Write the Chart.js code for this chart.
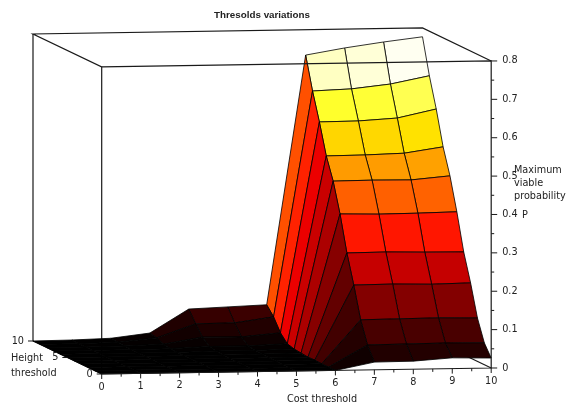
<!DOCTYPE html>
<html>
<head>
<meta charset="utf-8">
<title>Thresolds variations</title>
<script src="https://cdn.jsdelivr.net/npm/chart.js@4"></script>
<style>
  html, body { margin: 0; padding: 0; background: #fff; }
  canvas { display: block; }
</style>
</head>
<body>
<canvas id="surface-chart" width="568" height="408"></canvas>
<script>
// values, each list runs from height 0 up to height 10
const costThresholds = [0, 1, 2, 3, 4, 5, 6, 7, 8, 9, 10];
const heightThresholds = [0, 1, 2, 3, 4, 5, 6, 7, 8, 9, 10];
const probAtCost0 = [0, 0, 0, 0, 0, 0, 0, 0, 0, 0, 0];
const probAtCost1 = [0, 0, 0, 0, 0, 0, 0, 0, 0, 0, 0.001];
const probAtCost2 = [0, 0, 0, 0, 0, 0, 0, 0, 0.001, 0.002, 0.004];
const probAtCost3 = [0, 0, 0, 0, 0, 0, 0, 0.001, 0.004, 0.012, 0.016];
const probAtCost4 = [0, 0, 0, 0, 0, 0, 0.002, 0.005, 0.021, 0.047, 0.077];
const probAtCost5 = [0, 0, 0, 0, 0, 0.001, 0.002, 0.005, 0.02, 0.048, 0.081];
const probAtCost6 = [0, 0, 0, 0.001, 0, 0.002, 0.004, 0.009, 0.029, 0.062, 0.085];
const probAtCost7 = [0.02, 0.056, 0.113, 0.195, 0.27, 0.363, 0.44, 0.497, 0.577, 0.649, 0.734];
const probAtCost8 = [0.021, 0.057, 0.114, 0.196, 0.271, 0.361, 0.441, 0.498, 0.578, 0.653, 0.751];
const probAtCost9 = [0.028, 0.058, 0.115, 0.194, 0.269, 0.362, 0.44, 0.501, 0.584, 0.664, 0.765];
const probAtCost10 = [0.026, 0.057, 0.113, 0.196, 0.268, 0.364, 0.449, 0.516, 0.606, 0.684, 0.777];
const surface = [probAtCost0, probAtCost1, probAtCost2, probAtCost3, probAtCost4, probAtCost5,
  probAtCost6, probAtCost7, probAtCost8, probAtCost9, probAtCost10];

const costTicks = [0, 1, 2, 3, 4, 5, 6, 7, 8, 9, 10];
const heightTicks = [0, 5, 10];
const probTicks = [0, 0.1, 0.2, 0.3, 0.4, 0.5, 0.6, 0.7, 0.8];

const FONT = '"DejaVu Sans", sans-serif';
const TITLE_BAND = 30; // height the title block takes from the chart area
const RIGHT_BAND = 44; // keeps the title centred over the box, not over the page

/* --------- 3D box to flat page position --------- */
function project(cost, height, prob) {
  return {
    x: 101.7 + 38.95 * cost - 6.87 * height,
    y: 374 - 0.6 * cost - 3.3 * height - 383.75 * prob
  };
}

// hot colormap, same black-red-yellow-white ramp as the original
function hotColor(p) {
  const ramp = (from, to) => Math.round(255 * Math.min(1, Math.max(0, (p - from) / (to - from))));
  return `rgb(${ramp(0, 0.3)}, ${ramp(0.29, 0.585)}, ${ramp(0.59, 0.73)})`;
}

function frameLine(points) {
  return {
    data: points.map(p => project(p[0], p[1], p[2])),
    showLine: true,
    fill: false,
    borderColor: '#1a1a1a',
    borderWidth: 1.2,
    pointRadius: 0,
    clip: false
  };
}

const cMax = costThresholds[costThresholds.length - 1];
const hMax = heightThresholds[heightThresholds.length - 1];
const pMax = probTicks[probTicks.length - 1];

// first dataset is painted last, so the list runs from the nearest thing to the farthest
const datasets = [];
datasets.push(frameLine([[0, 0, pMax], [cMax, 0, pMax], [cMax, 0, 0], [0, 0, 0]]));
costThresholds.slice(0, -1).forEach((c, i) => {
  heightThresholds.slice(0, -1).forEach((h, j) => {
    const c2 = costThresholds[i + 1];
    const h2 = heightThresholds[j + 1];
    const corners = [
      project(c, h, surface[i][j]),
      project(c2, h, surface[i + 1][j]),
      project(c2, h2, surface[i + 1][j + 1]),
      project(c, h2, surface[i][j + 1])
    ];
    const mean = (surface[i][j] + surface[i + 1][j] + surface[i + 1][j + 1] + surface[i][j + 1]) / 4;
    datasets.push({
      data: [...corners, corners[0]],
      showLine: true,
      fill: 'shape',
      backgroundColor: hotColor(mean),
      borderColor: 'rgba(0, 0, 0, 0.8)',
      borderWidth: 1,
      pointRadius: 0,
      clip: false
    });
  });
});
datasets.push(frameLine([[0, 0, 0], [0, 0, pMax], [0, hMax, pMax], [cMax, hMax, pMax], [cMax, 0, pMax]]));
datasets.push(frameLine([[0, hMax, pMax], [0, hMax, 0], [0, 0, 0]]));
datasets.push(frameLine([[cMax, 0, 0], [cMax, hMax, 0]]));

/* --------- ticks and labels of the three tilted axes --------- */
const axesPlugin = {
  id: 'axes3d',
  afterDraw(chart) {
    const { ctx, scales } = chart;
    const px = p => ({ x: scales.x.getPixelForValue(p.x), y: scales.y.getPixelForValue(p.y) });
    const tick = (a, dx, dy) => {
      ctx.beginPath();
      ctx.moveTo(a.x, a.y);
      ctx.lineTo(a.x + dx, a.y + dy);
      ctx.stroke();
    };
    const label = (text, x, y, align) => {
      ctx.textAlign = align || 'left';
      ctx.fillText(text, x, y);
    };

    ctx.save();
    ctx.strokeStyle = '#1a1a1a';
    ctx.lineWidth = 1;
    ctx.fillStyle = '#222';
    ctx.font = `9.7px ${FONT}`;
    ctx.textBaseline = 'middle';

    costTicks.forEach((c, i) => {
      const a = px(project(c, 0, 0));
      tick(a, 0, 5);
      if (i < costTicks.length - 1) tick(px(project(c + 0.5, 0, 0)), 0, 3);
      label(String(c), a.x, a.y + 13, 'center');
    });
    heightTicks.forEach(h => {
      const a = px(project(0, h, 0));
      tick(a, -5, 0);
      label(String(h), a.x - 9, a.y, 'right');
    });
    probTicks.forEach((p, i) => {
      const a = px(project(cMax, 0, p));
      tick(a, 6, 0);
      if (i < probTicks.length - 1) tick(px(project(cMax, 0, p + 0.05)), 3, 0);
      label(String(p), a.x + 11, a.y);
    });

    label('Cost threshold', 322, 399, 'center');
    label('Height', 11, 358);
    label('threshold', 11, 373);
    label('Maximum', 514, 170);
    label('viable', 514, 183);
    label('probability', 514, 196);
    label('P', 522, 215);
    ctx.restore();
  }
};

new Chart(document.getElementById('surface-chart'), {
  type: 'scatter',
  data: { datasets },
  plugins: [axesPlugin],
  options: {
    responsive: false,
    animation: false,
    events: [],
    layout: { padding: { right: RIGHT_BAND } },
    plugins: {
      legend: { display: false },
      tooltip: { enabled: false },
      title: {
        display: true,
        fullSize: false,
        text: 'Thresolds variations',
        color: '#222',
        font: { family: '"Liberation Sans", sans-serif', size: 9.8, weight: 'bold', lineHeight: 1.2 },
        padding: { top: 9.1, bottom: 9.1 }
      }
    },
    scales: {
      x: { type: 'linear', display: false, min: 0, max: 568 - RIGHT_BAND },
      y: { type: 'linear', display: false, min: TITLE_BAND, max: 408, reverse: true }
    }
  }
});
</script>
</body>
</html>
